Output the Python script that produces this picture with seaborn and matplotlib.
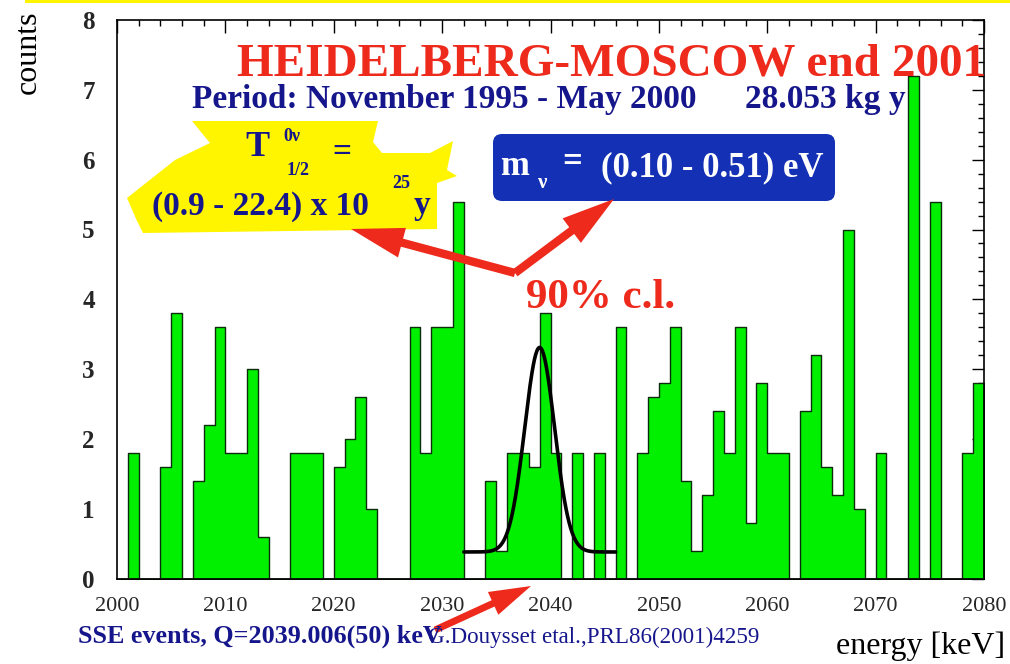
import numpy as np
import pandas as pd
import seaborn as sns
import matplotlib
matplotlib.use("Agg")
import matplotlib.pyplot as plt
from matplotlib.ticker import MultipleLocator, FixedLocator
from matplotlib.patches import Polygon, FancyBboxPatch, FancyArrowPatch, Rectangle, ArrowStyle

# ---------------- data ----------------
bin_edges = list(range(2000, 2081))          # 1 keV bins, 2000..2080 keV
counts = [
    0.0, 1.8, 0.0, 0.0, 1.6, 3.8, 0.0, 1.4, 2.2, 3.6,   # 2000-2009
    1.8, 1.8, 3.0, 0.6, 0.0, 0.0, 1.8, 1.8, 1.8, 0.0,   # 2010-2019
    1.6, 2.0, 2.6, 1.0, 0.0, 0.0, 0.0, 3.6, 1.8, 3.6,   # 2020-2029
    3.6, 5.4, 0.0, 0.0, 1.4, 0.4, 1.8, 1.8, 1.6, 3.8,   # 2030-2039
    1.8, 0.0, 1.8, 0.0, 1.8, 0.0, 3.6, 0.0, 1.8, 2.6,   # 2040-2049
    2.8, 3.6, 1.4, 0.4, 1.2, 2.4, 1.8, 3.6, 0.8, 2.8,   # 2050-2059
    1.8, 1.8, 0.0, 2.4, 3.2, 1.6, 1.2, 5.0, 1.0, 0.0,   # 2060-2069
    1.8, 0.0, 0.0, 7.2, 0.0, 5.4, 0.0, 0.0, 1.8, 2.8,   # 2070-2079
]
x_ticks = [2000, 2010, 2020, 2030, 2040, 2050, 2060, 2070, 2080]
y_ticks = [0, 1, 2, 3, 4, 5, 6, 7, 8]

# fitted peak
peak_center = 2039.0
peak_sigma = 1.38
peak_amp = 2.93
fit_background = 0.38
fit_range = (2032.0, 2046.0)

# ---------------- style ----------------
sns.set_style("white")
plt.rcParams["font.family"] = ["Liberation Serif", "DejaVu Serif"]

NAVY = "#16168c"
RED = "#ee2a1c"
YELLOW = "#fff500"
BLUE = "#1430b4"
GREEN = "#00f000"

W, H = 1010, 664
fig = plt.figure(figsize=(W / 100, H / 100), dpi=100)
fig.patch.set_facecolor("white")

ax = fig.add_axes([117 / W, (H - 578.5) / H, 867 / W, 558.4 / H])

df = pd.DataFrame({"energy": np.array(bin_edges[:-1]) + 0.5, "counts": counts})
sns.histplot(data=df, x="energy", weights="counts", bins=bin_edges,
             element="step", fill=True, color=GREEN, alpha=1.0,
             edgecolor="#0c2c0c", linewidth=1.0, ax=ax)

xf = np.linspace(fit_range[0], fit_range[1], 400)
yf = fit_background + peak_amp * np.exp(-0.5 * ((xf - peak_center) / peak_sigma) ** 2)
sns.lineplot(x=xf, y=yf, color="black", linewidth=2.6, ax=ax)

ax.set_xlim(bin_edges[0], bin_edges[-1])
ax.set_ylim(y_ticks[0], y_ticks[-1])
ax.xaxis.set_major_locator(FixedLocator(x_ticks))
ax.xaxis.set_minor_locator(MultipleLocator(2))
ax.yaxis.set_major_locator(FixedLocator(y_ticks))
ax.yaxis.set_minor_locator(MultipleLocator(0.2))
ax.set_xticklabels([str(t) for t in x_ticks])
ax.set_yticklabels([str(t) for t in y_ticks])
ax.set_xlabel("")
ax.set_ylabel("")
ax.tick_params(which="both", direction="in", top=True, right=True,
               width=1.0, color="black")
ax.tick_params(which="major", length=9)
ax.tick_params(which="minor", length=4.2)
ax.tick_params(axis="x", pad=13, labelsize=16)
ax.tick_params(axis="y", pad=16, labelsize=18)
for lbl in ax.get_yticklabels():
    lbl.set_fontweight("bold")
for s in ax.spines.values():
    s.set_linewidth(1.2)
    s.set_color("black")

# ---------------- overlay (pixel coordinates) ----------------
ov = fig.add_axes([0, 0, 1, 1], zorder=5)
ov.set_xlim(0, W)
ov.set_ylim(H, 0)
ov.axis("off")
ov.patch.set_alpha(0)

ov.add_patch(Rectangle((25, 0), W - 25, 3, color=YELLOW, lw=0))

# axis titles
ov.text(28, 10, "counts", rotation=90, ha="center", va="top", fontsize=23, color="black")
ov.text(1005, 654, "energy [keV]", ha="right", va="baseline", fontsize=23, color="black")

# headline texts
ov.text(986, 75, "HEIDELBERG-MOSCOW end 2001", ha="right", va="baseline",
        fontsize=34, fontweight="bold", color=RED)
ov.text(192, 108, "Period: November 1995 - May 2000", ha="left", va="baseline",
        fontsize=24, fontweight="bold", color=NAVY)
ov.text(745, 108, "28.053 kg y", ha="left", va="baseline",
        fontsize=24, fontweight="bold", color=NAVY)

# yellow blob
blob = [(192, 121), (378, 121), (373, 142), (382, 153), (430, 153), (453, 141),
        (447, 170), (457, 176), (437, 183), (437, 229), (143, 233), (137, 221),
        (127, 198), (175, 160), (210, 143)]
ov.add_patch(Polygon(blob, closed=True, facecolor=YELLOW, edgecolor="none"))
ov.text(245, 156, "T", ha="left", va="baseline", fontsize=26, fontweight="bold", color=NAVY)
ov.text(283, 141, "0ν", ha="left", va="baseline", fontsize=13, fontweight="bold", color=NAVY)
ov.text(287, 175, "1/2", ha="left", va="baseline", fontsize=13, fontweight="bold", color=NAVY)
ov.text(342, 152, "=", ha="center", va="center", fontsize=24, fontweight="bold", color=NAVY)
ov.text(152, 215, "(0.9 - 22.4) x 10", ha="left", va="baseline", fontsize=24,
        fontweight="bold", color=NAVY)
ov.text(392, 188, "25", ha="left", va="baseline", fontsize=13, fontweight="bold", color=NAVY)
ov.text(414, 214, "y", ha="left", va="baseline", fontsize=24, fontweight="bold", color=NAVY)

# blue box
ov.add_patch(FancyBboxPatch((493, 134), 342, 67,
                            boxstyle="round,pad=0,rounding_size=9",
                            facecolor=BLUE, edgecolor="none"))
ov.text(500, 175, "m", ha="left", va="baseline", fontsize=25, fontweight="bold", color="white")
ov.text(537, 188, "ν", ha="left", va="baseline", fontsize=15, fontweight="bold", color="white")
ov.text(572, 163, "=", ha="center", va="center", fontsize=25, fontweight="bold", color="white")
ov.text(601, 176, "(0.10 - 0.51) eV", ha="left", va="baseline", fontsize=25,
        fontweight="bold", color="white")

# 90% c.l.
ov.text(526, 308, "90% c.l.", ha="left", va="baseline", fontsize=31,
        fontweight="bold", color=RED)

# arrows
big = ArrowStyle.Simple(head_length=38, head_width=22, tail_width=6)
small = ArrowStyle.Simple(head_length=30, head_width=18, tail_width=5)
for a, b, st in [((515, 273), (351, 229), big),
                 ((515, 273), (614, 199), big),
                 ((435, 630), (531, 586), small)]:
    ov.add_patch(FancyArrowPatch(a, b, arrowstyle=st, mutation_scale=1,
                                 color=RED, lw=0, shrinkA=0, shrinkB=0))

# bottom texts
ov.text(78, 643, "SSE events, Q=2039.006(50) keV", ha="left", va="baseline",
        fontsize=18.8, fontweight="bold", color=NAVY)
ov.text(428, 643, "G.Douysset etal.,PRL86(2001)4259", ha="left", va="baseline",
        fontsize=16.6, color=NAVY)

fig.savefig("out.png", dpi=100)
